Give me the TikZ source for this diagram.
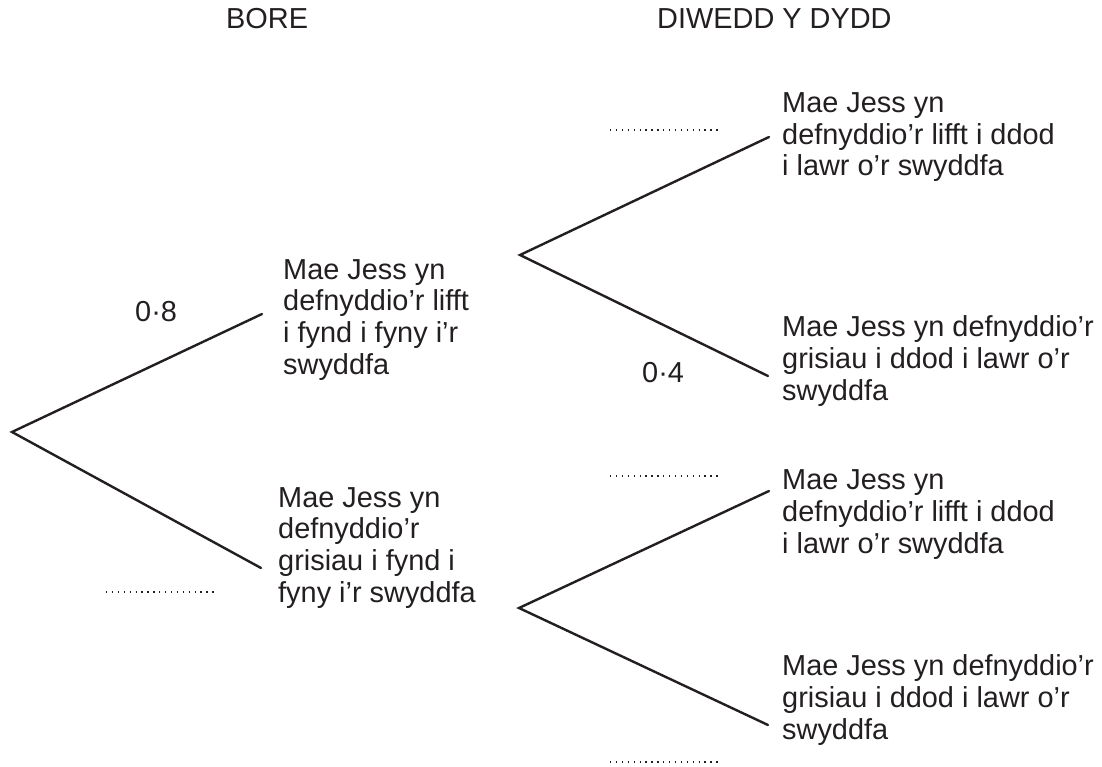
\documentclass[tikz,border=0pt]{standalone}
\usepackage{fontspec}
\setmainfont{Liberation Sans}
\definecolor{ink}{HTML}{231F20}
\begin{document}
\begin{tikzpicture}[x=1pt,y=-1pt,
  branch/.style={draw=ink,line width=2.4pt,line cap=round,line join=miter},
  blank/.style={draw=ink,line width=1.3pt,dash pattern=on 1.3pt off 4.6pt},
  lbl/.style={anchor=base west,inner sep=0pt,align=left,text=ink,font=\fontsize{28.9}{31.6}\selectfont},
]
\useasboundingbox (0,0) rectangle (1102,767);
\node[lbl] (h1) at (226,29) {BORE};
\node[lbl] (h2) at (657,29) {DIWEDD Y DYDD};
% branch points
\coordinate (r) at (12,432);
\coordinate (a) at (262,314);
\coordinate (b) at (261,568);
\coordinate (a0) at (520,255);
\coordinate (b0) at (519,608);
\coordinate (aa) at (769,137);
\coordinate (ab) at (768,376);
\coordinate (ba) at (769,491);
\coordinate (bb) at (768,725);
\draw[branch] (a) -- (r) -- (b);
\draw[branch] (aa) -- (a0) -- (ab);
\draw[branch] (ba) -- (b0) -- (bb);
% texts (anchor = baseline of last line)
\node[lbl] (ta) at (283,374) {Mae Jess yn\\defnyddio’r lifft\\i fynd i fyny i’r\\swyddfa};
\node[lbl] (tb) at (278,602) {Mae Jess yn\\defnyddio’r\\grisiau i fynd i\\fyny i’r swyddfa};
\node[lbl] (taa) at (782,176) {Mae Jess yn\\defnyddio’r lifft i ddod\\i lawr o’r swyddfa};
\node[lbl] (tab) at (782,400) {Mae Jess yn defnyddio’r\\grisiau i ddod i lawr o’r\\swyddfa};
\node[lbl] (tba) at (782,553) {Mae Jess yn\\defnyddio’r lifft i ddod\\i lawr o’r swyddfa};
\node[lbl] (tbb) at (782,739) {Mae Jess yn defnyddio’r\\grisiau i ddod i lawr o’r\\swyddfa};
% probabilities
\node[lbl] (p1) at (135,321) {0·8};
\node[lbl] (p2) at (642,382) {0·4};
% blanks
\coordinate (d1s) at (106,592); \coordinate (d1e) at (214,592);
\coordinate (d2s) at (610,130); \coordinate (d2e) at (719,130);
\coordinate (d3s) at (610,476); \coordinate (d3e) at (719,476);
\coordinate (d4s) at (610,762); \coordinate (d4e) at (719,762);
\draw[blank] (d1s) -- (d1e);
\draw[blank] (d2s) -- (d2e);
\draw[blank] (d3s) -- (d3e);
\draw[blank] (d4s) -- (d4e);
\end{tikzpicture}
\end{document}
